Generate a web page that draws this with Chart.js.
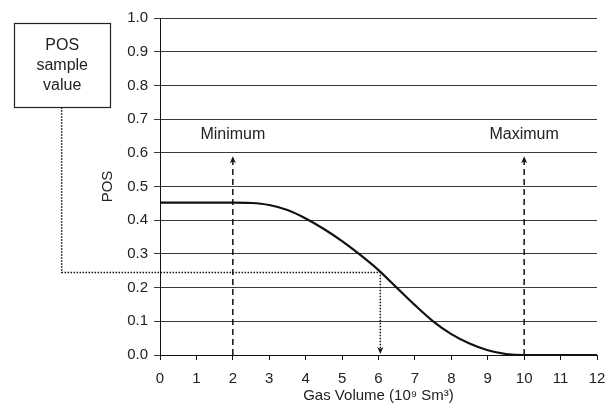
<!DOCTYPE html>
<html>
<head>
<meta charset="utf-8">
<script src="https://cdn.jsdelivr.net/npm/chart.js@4/dist/chart.umd.min.js"></script>
<style>
  html, body { margin: 0; padding: 0; background: #fff; }
  #wrap { width: 616px; height: 417px; }
</style>
</head>
<body>
<div id="wrap"><canvas id="c" width="616" height="417"></canvas></div>
<script>
// Gas volume (10^9 Sm^3) and probability of success
const gasVolume = [0, 0.5, 1, 1.5, 2, 2.5, 3, 3.5, 4, 4.5, 5, 5.5, 6, 6.5, 7, 7.5, 8, 8.5, 9, 9.5, 10, 10.5, 11, 11.5, 12];
const posValues = [0.452, 0.452, 0.452, 0.452, 0.452, 0.451, 0.445, 0.430, 0.405, 0.374, 0.338, 0.297, 0.252, 0.200, 0.148, 0.100, 0.062, 0.034, 0.014, 0.003, 0, 0, 0, 0, 0];

const xTickLabels = ['0','1','2','3','4','5','6','7','8','9','10','11','12'];
const yTickLabels = ['0.0','0.1','0.2','0.3','0.4','0.5','0.6','0.7','0.8','0.9','1.0'];

const minVolume = 2;
const maxVolume = 10;
const arrowTop = 0.59;
const labelLevel = 0.653;
const sampleValue = 0.245;
const sampleVolume = 6.05;
const boxLines = ['POS', 'sample', 'value'];
const boxXRange = [-4.0, -1.37];
const boxYRange = [0.735, 0.985];
const boxLeadX = -2.7;

const FONT = '"Liberation Sans", Arial, sans-serif';

function arrowHead(ctx, x, y, dir) {
  // dir: -1 pointing up, +1 pointing down
  ctx.save();
  ctx.setLineDash([]);
  ctx.beginPath();
  ctx.moveTo(x, y);
  ctx.lineTo(x - 3, y - dir * 7);
  ctx.lineTo(x, y - dir * 5);
  ctx.lineTo(x + 3, y - dir * 7);
  ctx.closePath();
  ctx.fillStyle = '#111';
  ctx.fill();
  ctx.restore();
}

const annotations = {
  id: 'annotations',
  afterDatasetsDraw(chart) {
    const ctx = chart.ctx;
    const xs = chart.scales.x, ys = chart.scales.y;
    const px = v => xs.getPixelForValue(v);
    const py = v => ys.getPixelForValue(v);
    ctx.save();
    ctx.strokeStyle = '#111';

    // Minimum / Maximum dashed arrows
    ctx.lineWidth = 1.5;
    ctx.setLineDash([6, 4]);
    [minVolume, maxVolume].forEach(v => {
      ctx.beginPath();
      ctx.moveTo(px(v), py(0));
      ctx.lineTo(px(v), py(arrowTop) + 4);
      ctx.stroke();
      arrowHead(ctx, px(v), py(arrowTop), -1);
    });

    // labels
    ctx.setLineDash([]);
    ctx.fillStyle = '#222';
    ctx.font = '16px ' + FONT;
    ctx.textAlign = 'center';
    ctx.textBaseline = 'middle';
    ctx.fillText('Minimum', px(minVolume), py(labelLevel));
    ctx.fillText('Maximum', px(maxVolume), py(labelLevel));

    // Box
    const bx0 = px(boxXRange[0]), bx1 = px(boxXRange[1]);
    const by0 = py(boxYRange[1]), by1 = py(boxYRange[0]);
    ctx.lineWidth = 1.2;
    ctx.strokeStyle = '#222';
    ctx.strokeRect(Math.round(bx0) + 0.5, Math.round(by0) + 0.5, Math.round(bx1 - bx0), Math.round(by1 - by0));
    const cx = (bx0 + bx1) / 2, cy = (by0 + by1) / 2;
    boxLines.forEach((t, i) => {
      ctx.fillText(t, cx, cy + (i - 1) * 20);
    });

    // Dotted path from the box to the curve and down to the axis
    ctx.strokeStyle = '#111';
    ctx.lineWidth = 1.5;
    ctx.setLineDash([1.5, 1.5]);
    ctx.beginPath();
    ctx.moveTo(px(boxLeadX), by1);
    ctx.lineTo(px(boxLeadX), py(sampleValue));
    ctx.lineTo(px(sampleVolume), py(sampleValue));
    ctx.lineTo(px(sampleVolume), py(0) - 4);
    ctx.stroke();
    arrowHead(ctx, px(sampleVolume), py(0) - 1, 1);

    ctx.restore();
  }
};

new Chart(document.getElementById('c'), {
  type: 'line',
  data: {
    datasets: [{
      data: gasVolume.map((v, i) => ({ x: v, y: posValues[i] })),
      borderColor: '#111',
      borderWidth: 2.2,
      pointRadius: 0,
      cubicInterpolationMode: 'monotone',
      fill: false
    }]
  },
  options: {
    responsive: false,
    animation: false,
    events: [],
    layout: { padding: { left: 95, top: 18, right: 19, bottom: 8 } },
    plugins: { legend: { display: false }, tooltip: { enabled: false } },
    scales: {
      x: {
        type: 'linear',
        min: 0, max: 12,
        afterFit(s) { s.height = 54; },
        afterBuildTicks(s) { s.ticks = xTickLabels.map(t => ({ value: Number(t) })); },
        ticks: {
          callback: (v, i) => xTickLabels[i],
          color: '#222',
          font: { family: FONT, size: 15 },
          padding: 10,
          maxRotation: 0
        },
        grid: { drawOnChartArea: false, drawTicks: true, tickLength: 5, color: '#111' },
        border: { color: '#111', width: 1 },
        title: {
          display: true,
          text: 'Gas Volume (10⁹ Sm³)',
          color: '#222',
          font: { family: FONT, size: 15 },
          padding: { top: 0, bottom: 4 }
        }
      },
      y: {
        min: 0, max: 1,
        afterFit(s) { s.width = 65; },
        afterBuildTicks(s) { s.ticks = yTickLabels.map(t => ({ value: Number(t) })); },
        ticks: {
          callback: (v, i) => yTickLabels[i],
          color: '#222',
          font: { family: FONT, size: 15 },
          padding: 6
        },
        grid: { color: '#3a3a3a', lineWidth: 1, tickLength: 6 },
        border: { color: '#111', width: 1 },
        title: {
          display: true,
          text: 'POS',
          color: '#222',
          font: { family: FONT, size: 15 },
          padding: { top: 4, bottom: 4 }
        }
      }
    }
  },
  plugins: [annotations]
});
</script>
</body>
</html>
